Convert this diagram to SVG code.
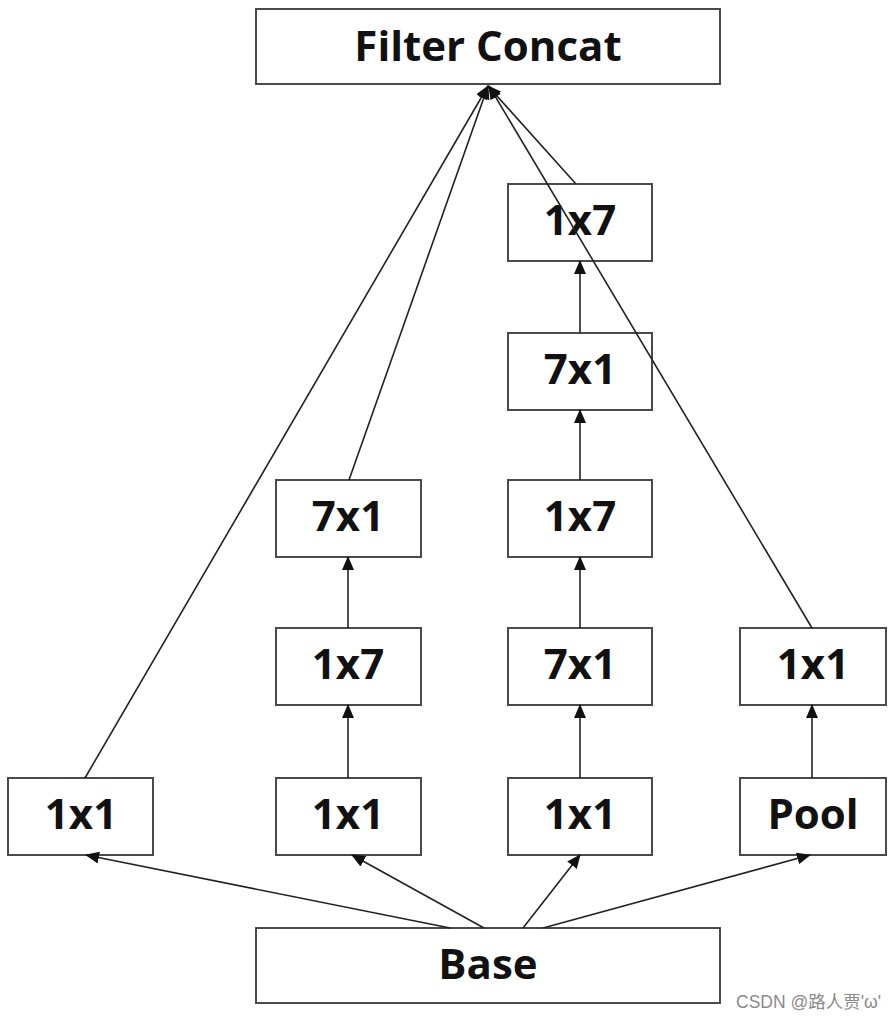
<svg xmlns="http://www.w3.org/2000/svg" width="895" height="1024" viewBox="0 0 895 1024">
<style>
.box{fill:#fff;stroke:#4a4a4a;stroke-width:2}
.lbl{font-family:"Open Sans","Noto Sans",sans-serif;font-weight:bold;font-size:42px;fill:#111;text-anchor:middle;dominant-baseline:central}
.c{stroke:#222;stroke-width:1.6;fill:none;marker-end:url(#ah)}
.wm{font-family:"Liberation Sans","Noto Sans CJK SC",sans-serif;font-size:17.5px;fill:#8a8a8a}
</style>
<defs>
<marker id="ah" viewBox="0 0 14 12" refX="13" refY="6" markerWidth="14" markerHeight="12" markerUnits="userSpaceOnUse" orient="auto">
<path d="M0,0 L14,6 L0,12 z" fill="#111"/>
</marker>
</defs>
<g id="concat"><rect class="box" x="256" y="9" width="464" height="75"/><text class="lbl" x="488" y="44">Filter Concat</text></g>
<g id="base"><rect class="box" x="256" y="928" width="464" height="75"/><text class="lbl" x="488" y="962">Base</text></g>
<g id="b1"><rect class="box" x="8" y="778" width="145" height="77"/><text class="lbl" x="81" y="812">1x1</text></g>
<g id="b2"><rect class="box" x="276" y="778" width="145" height="77"/><text class="lbl" x="348" y="812">1x1</text></g>
<g id="b3"><rect class="box" x="508" y="778" width="144" height="77"/><text class="lbl" x="580" y="812">1x1</text></g>
<g id="pool"><rect class="box" x="740" y="778" width="146" height="77"/><text class="lbl" x="813" y="812">Pool</text></g>
<g id="b2a"><rect class="box" x="276" y="628" width="145" height="77"/><text class="lbl" x="348" y="662">1x7</text></g>
<g id="b2b"><rect class="box" x="276" y="480" width="145" height="77"/><text class="lbl" x="348" y="514">7x1</text></g>
<g id="b3a"><rect class="box" x="508" y="628" width="144" height="77"/><text class="lbl" x="580" y="662">7x1</text></g>
<g id="b3b"><rect class="box" x="508" y="480" width="144" height="77"/><text class="lbl" x="580" y="514">1x7</text></g>
<g id="b3c"><rect class="box" x="508" y="333" width="144" height="77"/><text class="lbl" x="580" y="367">7x1</text></g>
<g id="b3d"><rect class="box" x="508" y="184" width="144" height="77"/><text class="lbl" x="580" y="218">1x7</text></g>
<g id="b4a"><rect class="box" x="740" y="628" width="146" height="77"/><text class="lbl" x="813" y="662">1x1</text></g>
<g id="connectors">
<line class="c" x1="450" y1="928" x2="86" y2="855"/>
<line class="c" x1="484" y1="928" x2="352" y2="855"/>
<line class="c" x1="523" y1="928" x2="580" y2="855"/>
<line class="c" x1="543" y1="928" x2="810" y2="855"/>
<line class="c" x1="348" y1="778" x2="348" y2="705"/>
<line class="c" x1="348" y1="628" x2="348" y2="557"/>
<line class="c" x1="580" y1="778" x2="580" y2="705"/>
<line class="c" x1="580" y1="628" x2="580" y2="557"/>
<line class="c" x1="580" y1="480" x2="580" y2="410"/>
<line class="c" x1="580" y1="333" x2="580" y2="261"/>
<line class="c" x1="812" y1="778" x2="812" y2="705"/>
<line class="c" x1="85" y1="778" x2="488" y2="86"/>
<line class="c" x1="349" y1="480" x2="488" y2="86"/>
<line class="c" x1="576" y1="184" x2="488" y2="86"/>
<line class="c" x1="812" y1="628" x2="489" y2="86"/>
</g>
<text class="wm" x="736" y="1008">CSDN @路人贾'ω'</text>
</svg>
